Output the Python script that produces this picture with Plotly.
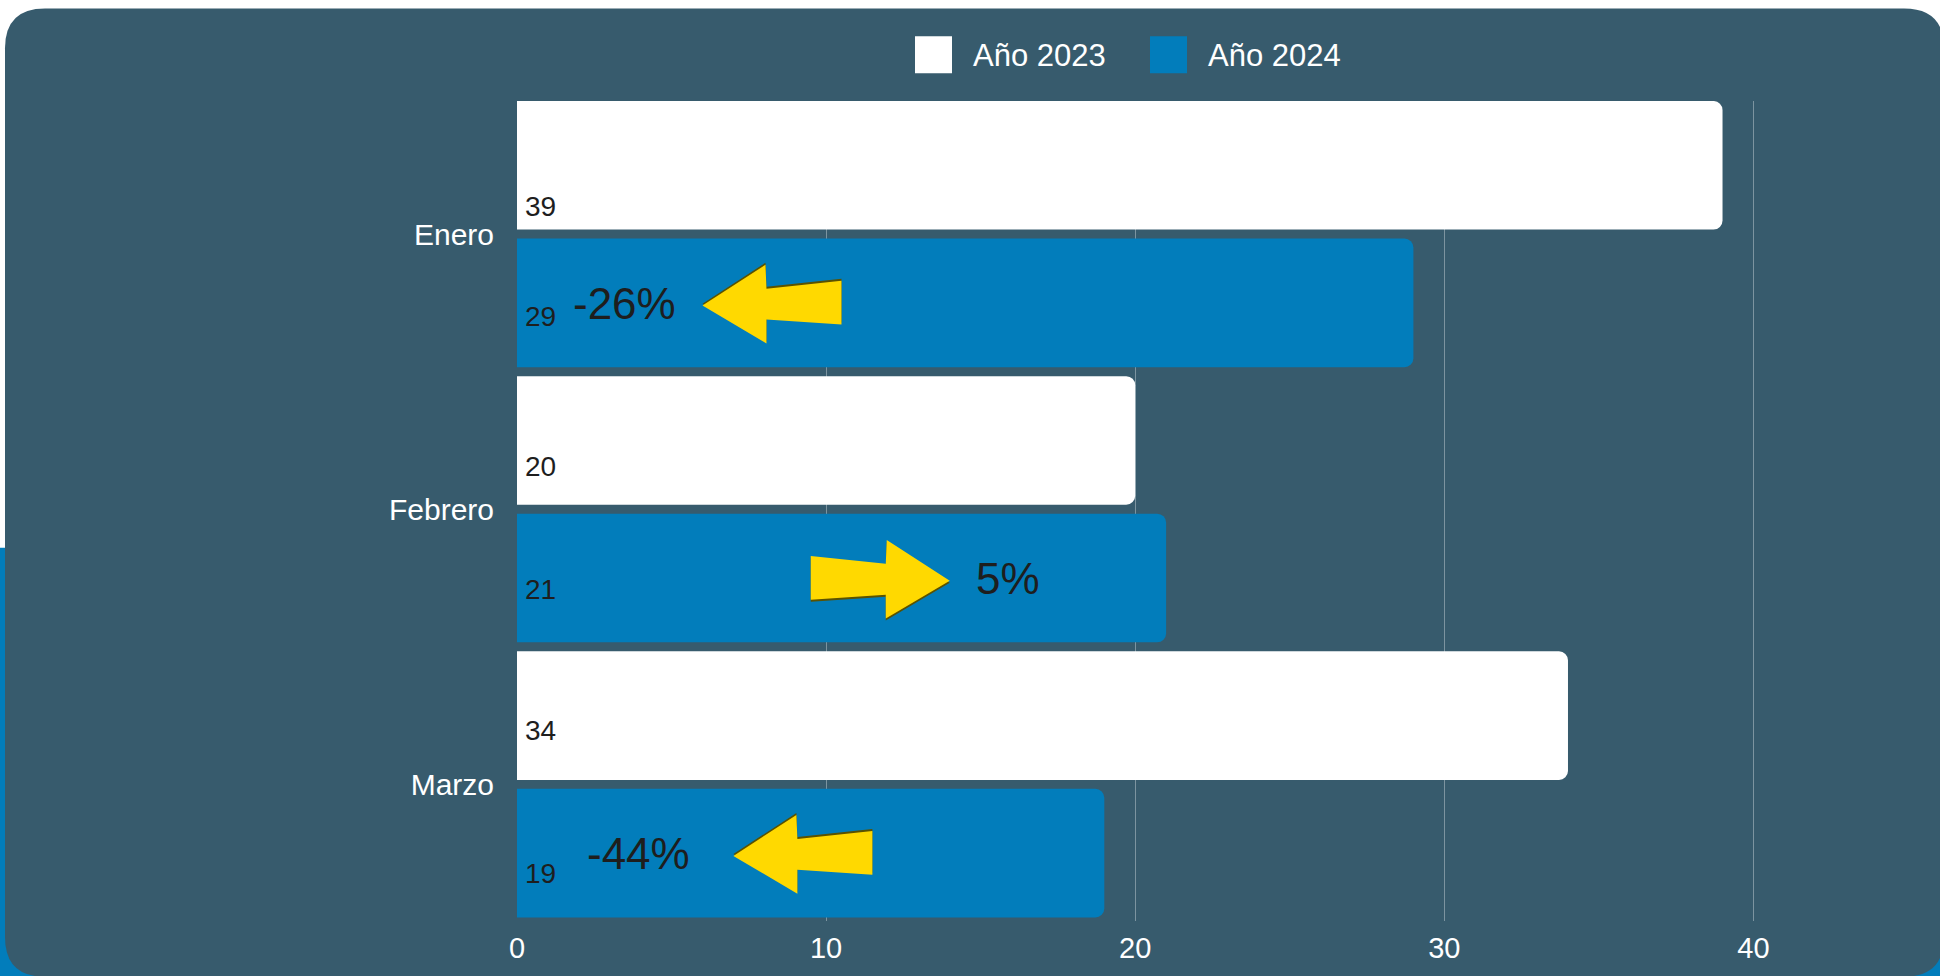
import plotly.graph_objects as go

# ---------------- data ----------------
months = ["Enero", "Febrero", "Marzo"]
series_names = ["Año 2023", "Año 2024"]
values_2023 = [39, 20, 34]
values_2024 = [29, 21, 19]
change_labels = ["-26%", "5%", "-44%"]
x_tick_vals = [0, 10, 20, 30, 40]
x_tick_text = ["0", "10", "20", "30", "40"]

# ---------------- style ----------------
W, H = 1940, 976
ML, MR, MT, MB = 517, 32, 101, 51
PW, PH = W - ML - MR, H - MT - MB
X_MAX = 45
Y_RANGE = [2.4966, -0.4837]   # reversed category axis (Enero on top)
PANEL = "#375b6d"
BLUE = "#027dbb"
WHITE = "#ffffff"
YELLOW = "#ffd900"
SHADOW = "#5a5200"
DARK_TEXT = "#1e1e1e"
FONT = "Liberation Sans, Arial, sans-serif"
series_colors = [WHITE, BLUE]

# decoration placement
arrow_tip_x = [6.0, 14.0, 7.0]          # axis units
label_gap_px = [24, 24, 41]
value_label_drop_px = [[41, 26, 15], [14, 11, 20]]
arrow_template = [(0, 0), (63, -41), (64, -17), (139, -25), (139, 19), (64, 14), (64, 38)]

ppu_x = PW / X_MAX
ppu_y = PH / (Y_RANGE[0] - Y_RANGE[1])


def px(x):
    return (x - ML) / PW


def py(y):
    return (H - MB - y) / PH


def rounded_rect_path(x0, y0, x1, y1, r):
    return (
        f"M {px(x0 + r)},{py(y0)} L {px(x1 - r)},{py(y0)} "
        f"Q {px(x1)},{py(y0)} {px(x1)},{py(y0 + r)} "
        f"L {px(x1)},{py(y1 - r)} Q {px(x1)},{py(y1)} {px(x1 - r)},{py(y1)} "
        f"L {px(x0 + r)},{py(y1)} Q {px(x0)},{py(y1)} {px(x0)},{py(y1 - r)} "
        f"L {px(x0)},{py(y0 + r)} Q {px(x0)},{py(y0)} {px(x0 + r)},{py(y0)} Z"
    )


fig = go.Figure()
for name, vals, col in zip(series_names, [values_2023, values_2024], series_colors):
    fig.add_trace(go.Bar(
        y=months, x=vals, name=name, orientation="h",
        marker=dict(color=col, line=dict(width=0)),
        showlegend=False, hoverinfo="x+name",
    ))

shapes = []
# page background pieces
shapes.append(dict(type="rect", xref="paper", yref="paper",
                   x0=px(0), x1=px(W), y0=py(550), y1=py(H + 20),
                   fillcolor=BLUE, line=dict(width=0), layer="below"))
shapes.append(dict(type="path", xref="paper", yref="paper",
                   path=rounded_rect_path(5, 8, 1944, 981, 40),
                   fillcolor=PANEL, line=dict(width=0), layer="below"))

annotations = []

# arrows + percentage labels
for i, m in enumerate(months):
    direction = 1 if values_2024[i] >= values_2023[i] else -1
    tip_x = arrow_tip_x[i]
    tip_y = i + 0.25 + 0.01
    pts = [(tip_x - direction * dx / ppu_x, tip_y + dy / ppu_y) for dx, dy in arrow_template]
    sh = -2 if direction < 0 else 2
    for color, off in [(SHADOW, sh), (YELLOW, 0)]:
        path = "M " + " L ".join(f"{x},{y + off / ppu_y}" for x, y in pts) + " Z"
        shapes.append(dict(type="path", xref="x", yref="y", path=path,
                           fillcolor=color, line=dict(width=0), layer="above"))
    annotations.append(dict(
        x=tip_x, y=tip_y, xref="x", yref="y", text=change_labels[i], showarrow=False,
        xanchor="right" if direction < 0 else "left",
        xshift=-label_gap_px[i] if direction < 0 else label_gap_px[i],
        yshift=2, yanchor="middle",
        font=dict(family=FONT, size=44, color=DARK_TEXT),
    ))

# value labels at bar base
for s, vals in enumerate([values_2023, values_2024]):
    for i, v in enumerate(vals):
        annotations.append(dict(
            x=0, y=i + (-0.25 if s == 0 else 0.25), xref="x", yref="y",
            text=str(v), showarrow=False, xanchor="left", xshift=6,
            yanchor="middle", yshift=-value_label_drop_px[s][i],
            font=dict(family=FONT, size=28, color=DARK_TEXT),
        ))

# custom legend
legend_x = [915, 1150]
for name, col, lx in zip(series_names, series_colors, legend_x):
    shapes.append(dict(type="rect", xref="paper", yref="paper",
                       x0=px(lx), x1=px(lx + 37), y0=py(36), y1=py(73),
                       fillcolor=col, line=dict(width=0), layer="above"))
    annotations.append(dict(
        x=px(lx + 56), y=py(55), xref="paper", yref="paper", text=name,
        showarrow=False, xanchor="left", yanchor="middle",
        font=dict(family=FONT, size=31, color=WHITE),
    ))

fig.update_layout(
    width=W, height=H,
    margin=dict(l=ML, r=MR, t=MT, b=MB, pad=0),
    paper_bgcolor="#ffffff",
    plot_bgcolor="rgba(0,0,0,0)",
    barmode="group", bargap=0, bargroupgap=0.065,
    barcornerradius=9,
    shapes=shapes, annotations=annotations,
    font=dict(family=FONT, color=WHITE),
    showlegend=False,
)
fig.update_xaxes(
    range=[0, X_MAX], tickvals=x_tick_vals, ticktext=x_tick_text,
    showgrid=True, gridcolor="rgba(255,255,255,0.35)", gridwidth=1,
    zeroline=False, showline=False, ticks="",
    tickfont=dict(family=FONT, size=29, color=WHITE), ticklabelstandoff=7,
    fixedrange=True,
)
fig.update_yaxes(
    range=Y_RANGE, autorange=False, showgrid=False, zeroline=False, showline=False, ticks="",
    tickfont=dict(family=FONT, size=30, color=WHITE), ticklabelstandoff=22,
    fixedrange=True,
)

fig.write_html("out.html", config={"displayModeBar": False},
               post_script="document.body.style.margin='0';document.body.style.overflow='hidden';")
